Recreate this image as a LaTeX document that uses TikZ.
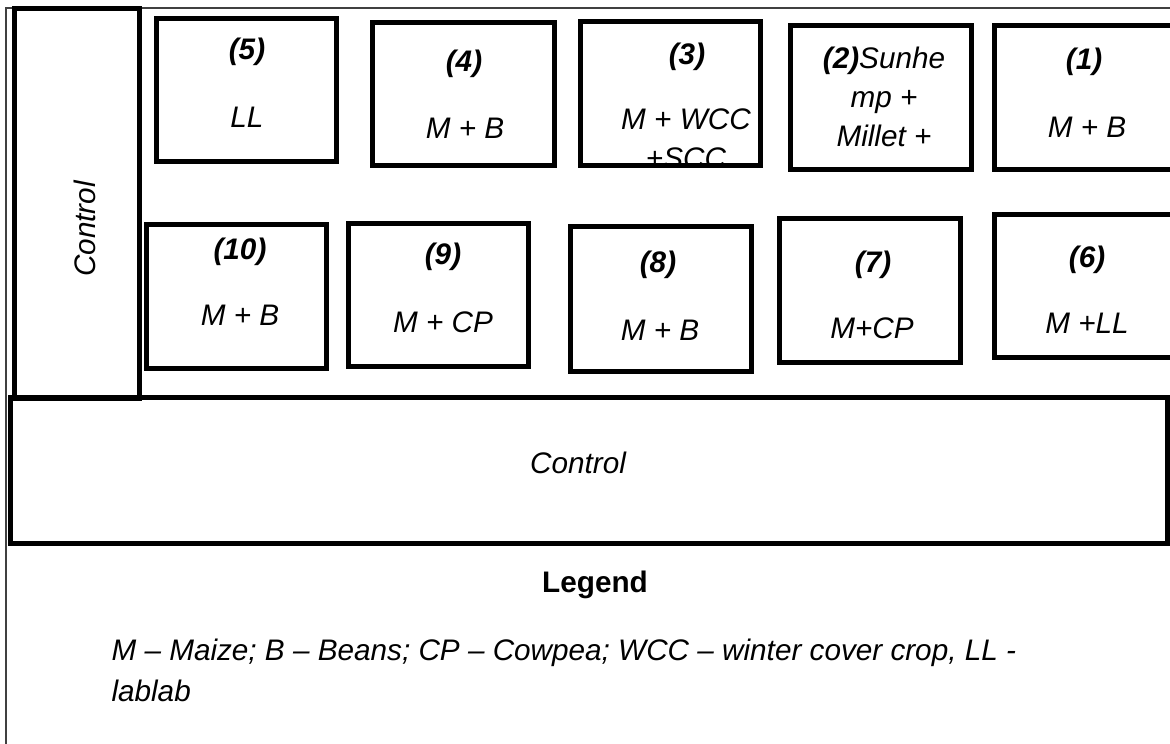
\documentclass[tikz,border=0pt]{standalone}
\usepackage{fontspec}
\setmainfont{Liberation Sans}
\usetikzlibrary{positioning}

\begin{document}
\begin{tikzpicture}[x=1pt, y=-1pt,
        plotbox/.style={draw, line width=5pt, rectangle, inner sep=0pt},
        num/.style={font=\fontsize{29.7}{39}\selectfont\bfseries\itshape},
        crop/.style={font=\fontsize{29.7}{39}\selectfont\itshape, align=center},
        frame/.style={draw=black!75, line width=1.5pt}]
    \useasboundingbox (0,0) rectangle (1170,744);
    \clip (0,0) rectangle (1170,744);

    % outer frame (open to the right and bottom)
    \draw[frame] (6,760) -- (6,8) -- (1190,8);

    % control strips
    \node[plotbox, minimum width=125, minimum height=390] (ctrlleft) at (77,203) {};
    \node[plotbox, minimum width=1157, minimum height=146] (ctrlbottom) at (589,470) {};
    \node[crop, rotate=90] (ctrlleftlbl) at (85,229) {Control};
    \node[crop] (ctrlbottomlbl) at (578,463) {Control};

    % top row of plots
    \node[plotbox, minimum width=180, minimum height=143] (p5) at (246,89.5) {};
    \node[plotbox, minimum width=182, minimum height=143] (p4) at (463,93.5) {};
    \begin{scope}
        \clip (560,0) rectangle (780,167);
        \node[crop] (c3) at (686,139) {M + WCC\\+SCC};
    \end{scope}
    \node[plotbox, minimum width=180, minimum height=144] (p3) at (670,93) {};
    \node[plotbox, minimum width=181, minimum height=144] (p2) at (880.5,97) {};
    \node[plotbox, minimum width=206, minimum height=144] (p1) at (1097,97) {};

    \node[num] (n5) at (247,52) {(5)};
    \node[crop] (c5) at (247,117) {LL};
    \node[num] (n4) at (464,64) {(4)};
    \node[crop] (c4) at (465,128) {M + B};
    \node[num] (n3) at (687,57) {(3)};
    \node[crop] (c2) at (884,97) {\textbf{(2)}Sunhe\\mp +\\Millet +};
    \node[num] (n1) at (1084,62) {(1)};
    \node[crop] (c1) at (1087,127) {M + B};

    % bottom row of plots
    \node[plotbox, minimum width=180, minimum height=144] (p10) at (236,296) {};
    \node[plotbox, minimum width=180, minimum height=143] (p9) at (438,294.5) {};
    \node[plotbox, minimum width=181, minimum height=145] (p8) at (660.5,298.5) {};
    \node[plotbox, minimum width=181, minimum height=144] (p7) at (869.5,290) {};
    \node[plotbox, minimum width=206, minimum height=143] (p6) at (1097,285.5) {};

    \node[num] (n10) at (240,252) {(10)};
    \node[crop] (c10) at (240,315) {M + B};
    \node[num] (n9) at (443,257) {(9)};
    \node[crop] (c9) at (443,322) {M + CP};
    \node[num] (n8) at (658,265) {(8)};
    \node[crop] (c8) at (660,330) {M + B};
    \node[num] (n7) at (873,265) {(7)};
    \node[crop] (c7) at (872,328) {M+CP};
    \node[num] (n6) at (1087,260) {(6)};
    \node[crop] (c6) at (1087,323) {M +LL};

    % legend
    \node[font=\fontsize{29.7}{39}\selectfont\bfseries] (legend) at (595,585) {Legend};
    \node[font=\fontsize{29.7}{41}\selectfont\itshape, align=left, anchor=west] (legendtxt) at (108,670)
        {M -- Maize; B -- Beans; CP -- Cowpea; WCC -- winter cover crop, LL -\\lablab};
\end{tikzpicture}
\end{document}
